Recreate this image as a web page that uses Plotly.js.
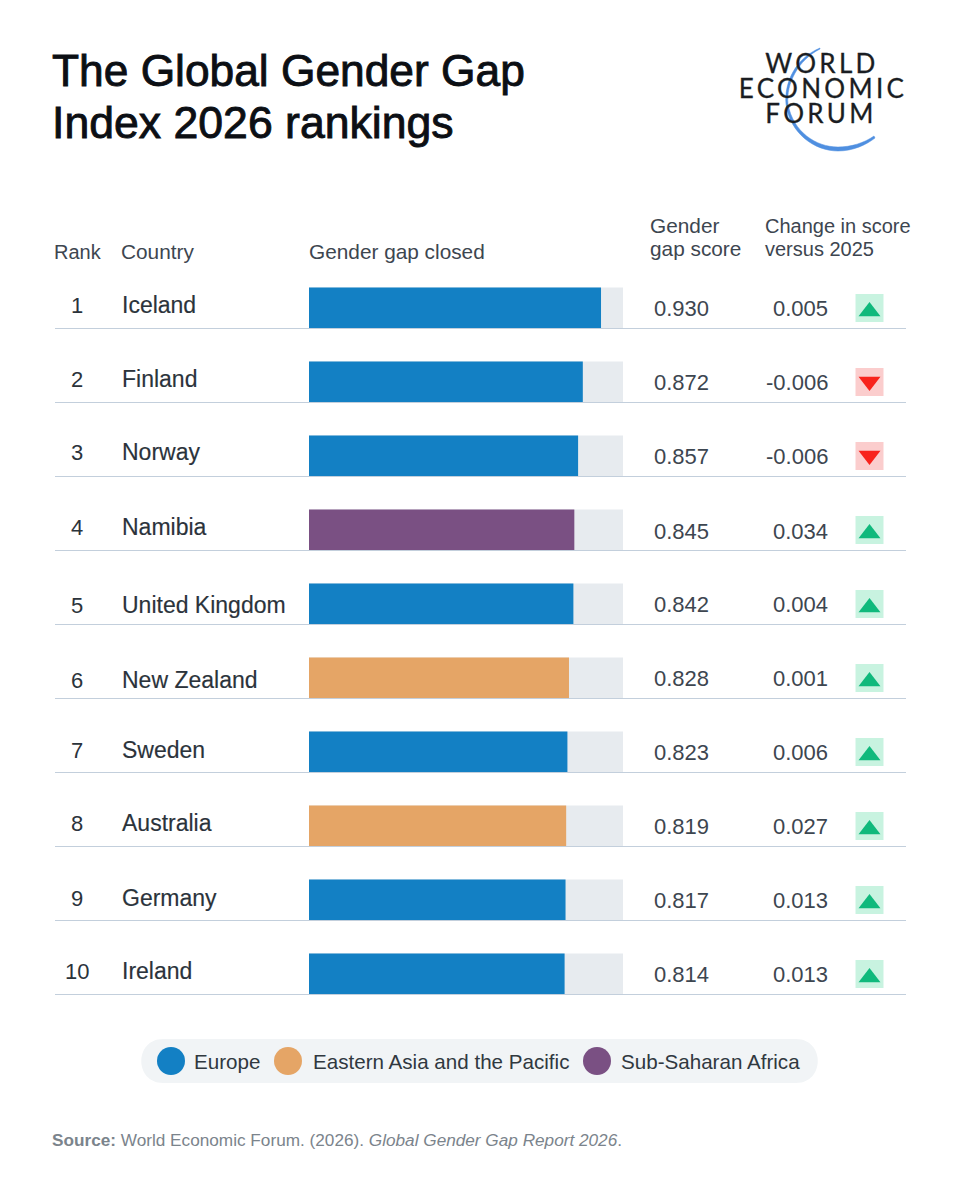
<!DOCTYPE html>
<html><head><meta charset="utf-8">
<script src="https://cdn.plot.ly/plotly-3.0.1.min.js"></script>
<style>html,body{margin:0;padding:0;background:#fff}#chart{width:959px;height:1200px}</style>
</head><body><div id="chart"></div>
<script>
// ---- data ----
const ranks = [1,2,3,4,5,6,7,8,9,10];
const countries = ["Iceland","Finland","Norway","Namibia","United Kingdom","New Zealand","Sweden","Australia","Germany","Ireland"];
const scores = [0.930,0.872,0.857,0.845,0.842,0.828,0.823,0.819,0.817,0.814];
const changes = [0.005,-0.006,-0.006,0.034,0.004,0.001,0.006,0.027,0.013,0.013];
const regions = ["Europe","Europe","Europe","Sub-Saharan Africa","Europe","Eastern Asia and the Pacific","Europe","Eastern Asia and the Pacific","Europe","Europe"];
const regionNames = ["Europe","Eastern Asia and the Pacific","Sub-Saharan Africa"];
// ---- style ----
const regionColor = {"Europe":"#1380c4","Eastern Asia and the Pacific":"#e5a566","Sub-Saharan Africa":"#7a5083"};
const W=959,H=1200, rowH=74, row1=308;
const sans='"Liberation Sans", Arial, sans-serif';
const ink='#3d4650';
const yTop=1-row1/rowH, yBot=1+(H-row1)/rowH;
const nudge=[-3,-3,-4,-3,1,2,-2,-3,-2,-3];
const scoreNudge=[0,0,0,1,0,0,0,0,0,0];

const traces=[
 {type:'bar',orientation:'h',y:ranks,x:ranks.map(()=>1),width:41/rowH,marker:{color:'#e7ebef'},hoverinfo:'skip',showlegend:false},
 {type:'bar',orientation:'h',y:ranks,x:scores,width:41/rowH,marker:{color:regions.map(r=>regionColor[r])},showlegend:false},
 {type:'scatter',mode:'markers',xaxis:'x2',yaxis:'y',x:changes.map(()=>869.5),y:ranks,
  marker:{symbol:'square',size:28,color:changes.map(c=>c>=0?'#c8f3e0':'#fbcdcd')},hoverinfo:'skip',showlegend:false},
 {type:'scatter',mode:'markers',xaxis:'x2',yaxis:'y',x:changes.map(()=>869.5),y:ranks.map((r,i)=>r+(changes[i]>=0?3.5:-0.5)/rowH),
  marker:{symbol:changes.map(c=>c>=0?'triangle-up':'triangle-down'),size:19,color:changes.map(c=>c>=0?'#10b97c':'#f8231c')},showlegend:false}
];

const ann=[];
function page(x,y,text,size,color,anchor,extra){
 ann.push(Object.assign({xref:'x2',yref:'y2',x,y,text,showarrow:false,xanchor:anchor||'left',yanchor:'middle',
  font:{family:sans,size,color},align:anchor||'left',borderpad:0,borderwidth:0},extra||{}));
}
function row(x,r,dy,text,size,color,anchor){
 ann.push({xref:'x2',yref:'y',x,y:r,yshift:-dy,text,showarrow:false,xanchor:anchor,yanchor:'middle',borderpad:0,font:{family:sans,size,color}});
}
page(52,70.5,'The Global Gender Gap',44.3,'#0c0f14','left');
page(52,122,'Index 2026 rankings',44.6,'#0c0f14','left');
const logoFont={width:190,height:24,font:{family:'Lato, sans-serif',size:26,color:'#1a1d22'}};
page(821.5,63,'WORLD',26,'#1a1d22','center',logoFont);
page(823,88,'ECONOMIC',26,'#1a1d22','center',logoFont);
page(821,113,'FORUM',26,'#1a1d22','center',logoFont);
page(54,252,'Rank',20,ink);
page(121,251.5,'Country',20.8,ink);
page(309,251.5,'Gender gap closed',20.8,ink);
page(650,225.5,'Gender',20.8,ink);
page(650,248.5,'gap score',20.8,ink);
page(765,226,'Change in score',20,ink);
page(765,249,'versus 2025',20,ink);
ranks.forEach((r,i)=>{
 row(77,r,nudge[i],String(r),22,'#2b333b','center');
 row(120.5,r,nudge[i],countries[i],23,'#2b333b','left');
 row(653,r,scoreNudge[i],scores[i].toFixed(3),22,ink,'left');
 row(829,r,scoreNudge[i],changes[i].toFixed(3),22,ink,'right');
});
const legendX=[171,288,597], legendTextX=[194,313,621];
regionNames.forEach((n,i)=>page(legendTextX[i],1061,n,20.6,'#30383f'));
page(52,1140,'<b>Source:</b> World Economic Forum. (2026). <i>Global Gender Gap Report 2026</i>.',17.2,'#7b848c');

const shapes=[];
ranks.forEach(r=>shapes.push({type:'line',xref:'x2',yref:'y',x0:55,x1:906,y0:r+20.5/rowH,y1:r+20.5/rowH,line:{color:'#c3cfdc',width:1.2}}));
// legend pill
shapes.push({type:'path',xref:'x2',yref:'y2',layer:'below',fillcolor:'#f1f4f6',line:{width:0},
 path:'M163,1039 L796,1039 C825,1039 825,1083 796,1083 L163,1083 C134,1083 134,1039 163,1039 Z'});
regionNames.forEach((n,i)=>shapes.push({type:'circle',xref:'x2',yref:'y2',x0:legendX[i]-14,x1:legendX[i]+14,y0:1047,y1:1075,fillcolor:regionColor[n],line:{width:0}}));
// logo arc
shapes.push({type:'path',xref:'x2',yref:'y2',fillcolor:'#4f8fe0',line:{color:'#4f8fe0',width:0.5},
 path:'M820,48 C796,58 784,82 786,104 C790,134 815,151 838,151 C853,151 866,145 875,138 L874,136 C864,143 851,147 838,147 C816,147 793,132 788,104 C786,84 798,60 820,49 Z'});

const layout={
 width:W,height:H,margin:{l:0,r:0,t:0,b:0},paper_bgcolor:'#fff',plot_bgcolor:'rgba(0,0,0,0)',
 barmode:'overlay',showlegend:false,
 xaxis:{domain:[309/W,623/W],range:[0,1],visible:false,fixedrange:true},
 yaxis:{domain:[0,1],range:[yBot,yTop],visible:false,fixedrange:true},
 xaxis2:{domain:[0,1],range:[0,W],visible:false,anchor:'y',fixedrange:true},
 yaxis2:{domain:[0,1],range:[H,0],visible:false,anchor:'x2',fixedrange:true},
 annotations:ann,shapes
};
Plotly.newPlot('chart',traces,layout,{displayModeBar:false,staticPlot:true}).then(()=>{
 document.querySelectorAll('.annotation-text').forEach(t=>{
  const s=t.textContent;
  if(['WORLD','ECONOMIC','FORUM'].includes(s)){t.style.letterSpacing='3.3px';t.style.stroke='#1a1d22';t.style.strokeWidth='0.3px';}
  if(s.startsWith('The Global')||s.startsWith('Index 2026')){t.style.stroke='#0c0f14';t.style.strokeWidth='0.9px';}
  if(countries.includes(s)){t.style.stroke='#2b333b';t.style.strokeWidth='0.15px';}
 });
});
</script></body></html>
